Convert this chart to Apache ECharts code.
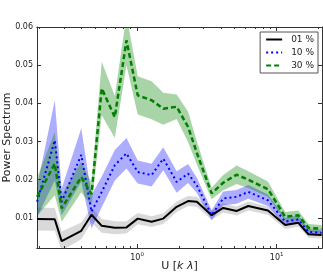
<!DOCTYPE html>
<html><head><meta charset="utf-8">
<script src="https://cdn.jsdelivr.net/npm/echarts@6/dist/echarts.min.js"></script>
<style>html,body{margin:0;padding:0;background:#fff}#c{width:323px;height:276px}</style>
</head><body><div id="c"></div>
<script>
const U = [0.192, 0.257, 0.288, 0.398, 0.471, 0.558, 0.692, 0.839, 1.01, 1.27, 1.54, 1.92, 2.32, 2.68, 3.42, 4.14, 5.16, 6.26, 8.66, 11.5, 14.3, 16.9, 21.0];
const P01 = [0.0097, 0.0096, 0.0039, 0.0066, 0.0108, 0.0079, 0.0074, 0.0075, 0.0098, 0.0090, 0.0098, 0.0129, 0.0144, 0.0142, 0.0107, 0.0126, 0.0118, 0.0131, 0.0119, 0.0081, 0.0087, 0.0057, 0.0055];
const E01 = [0.003, 0.003, 0.0025, 0.0022, 0.002, 0.0018, 0.0017, 0.0016, 0.0015, 0.0014, 0.0014, 0.0014, 0.0013, 0.0013, 0.0012, 0.0012, 0.0012, 0.0012, 0.0011, 0.001, 0.001, 0.0009, 0.0009];
const P10 = [0.0142, 0.0303, 0.0142, 0.0265, 0.0116, 0.0168, 0.0238, 0.0269, 0.0220, 0.0212, 0.0255, 0.0194, 0.0216, 0.0185, 0.0107, 0.0151, 0.0155, 0.0168, 0.0146, 0.0090, 0.0096, 0.0063, 0.0061];
const E10 = [0.004, 0.0105, 0.0035, 0.007, 0.0044, 0.004, 0.004, 0.004, 0.003, 0.003, 0.003, 0.0028, 0.0025, 0.002, 0.0013, 0.0018, 0.0018, 0.0018, 0.0015, 0.001, 0.001, 0.0008, 0.0008];
const P30 = [0.0155, 0.0242, 0.0125, 0.0207, 0.0162, 0.0439, 0.0364, 0.0565, 0.0421, 0.0408, 0.0386, 0.0391, 0.0338, 0.027, 0.0164, 0.0192, 0.0213, 0.0200, 0.0175, 0.0103, 0.0107, 0.0074, 0.0071];
const E30 = [0.005, 0.0083, 0.0035, 0.004, 0.003, 0.007, 0.0055, 0.0065, 0.005, 0.005, 0.0042, 0.0032, 0.004, 0.003, 0.0015, 0.002, 0.0024, 0.0022, 0.002, 0.0012, 0.0012, 0.001, 0.001];
const NAMES = ['01 %', '10 %', '30 %'];
const Y_TICKS = [0.01, 0.02, 0.03, 0.04, 0.05, 0.06];
const X_MAJOR = [1, 10];
const X_MINOR = [0.2, 0.3, 0.4, 0.5, 0.6, 0.7, 0.8, 0.9, 2, 3, 4, 5, 6, 7, 8, 9, 20];
const X_LABELS = {1: '10{sup|0}', 10: '10{sup|1}'};

const FONT = 'DejaVu Sans';
const XMIN = 0.1917, XMAX = 21.13, YMIN = 0.0021, YMAX = 0.06;
const frame = {show: true, lineStyle: {color: '#333', width: 1}};

function xAx(pos, ticks, len, labels) {
  return {
    type: 'log', logBase: 10, min: XMIN, max: XMAX, position: pos,
    axisLine: frame,
    splitLine: {show: false},
    axisTick: {show: true, inside: true, length: len, customValues: ticks, lineStyle: {color: '#333'}},
    axisLabel: labels ? {
      show: true, customValues: X_MAJOR, margin: 4,
      formatter: v => X_LABELS[Math.round(v)] || '',
      color: '#222', fontFamily: FONT, fontSize: 8,
      rich: {sup: {fontSize: 5.5, fontFamily: FONT, color: '#222', padding: [0, 0, 5, 0]}}
    } : {show: false},
    name: labels ? 'U [{it|k λ}]' : '', nameLocation: 'middle', nameGap: 13, nameMoveOverlap: false,
    nameTextStyle: {color: '#222', fontFamily: FONT, fontSize: 11,
      rich: {it: {fontStyle: 'italic', fontFamily: FONT, fontSize: 11, color: '#222'}}}
  };
}

function pts(arr) { return U.map((u, i) => [u, arr[i]]); }

function bandSeries(id, vals, errs, color) {
  return {
    name: id, type: 'custom', silent: true, z: 1,
    data: [[U[0], vals[0]]],
    renderItem: function (params, api) {
      const up = U.map((u, i) => api.coord([u, vals[i] + errs[i]]));
      const lo = U.map((u, i) => api.coord([u, vals[i] - errs[i]])).reverse();
      const cs = params.coordSys;
      return {
        type: 'group',
        clipPath: {type: 'rect', shape: {x: cs.x, y: cs.y, width: cs.width, height: cs.height}},
        children: [{type: 'polygon', shape: {points: up.concat(lo)}, style: {fill: color}}]
      };
    }
  };
}

const series = [
  bandSeries('b01', P01, E01, 'rgba(0,0,0,0.15)'),
  bandSeries('b10', P10, E10, 'rgba(0,0,255,0.32)'),
  bandSeries('b30', P30, E30, 'rgba(0,128,0,0.34)'),
  {name: NAMES[0], type: 'line', data: pts(P01), symbol: 'none', z: 5,
   lineStyle: {color: '#000', width: 2, type: 'solid'}, itemStyle: {color: '#000'}},
  {name: NAMES[1], type: 'line', data: pts(P10), symbol: 'none', z: 5,
   lineStyle: {color: '#0000ff', width: 2, type: [2, 3]}, itemStyle: {color: '#0000ff'}},
  {name: NAMES[2], type: 'line', data: pts(P30), symbol: 'none', z: 5,
   lineStyle: {color: '#007f00', width: 2.5, type: [5, 3]}, itemStyle: {color: '#007f00'}}
];

const chart = echarts.init(document.getElementById('c'), null, {renderer: 'canvas'});
chart.setOption({
  animation: false,
  backgroundColor: '#fff',
  grid: {left: 37, right: 1, top: 27, bottom: 28, containLabel: false, outerBoundsMode: 'none'},
  xAxis: [
    xAx('bottom', X_MAJOR, 4, true),
    xAx('bottom', X_MINOR, 2, false),
    xAx('top', X_MAJOR, 4, false),
    xAx('top', X_MINOR, 2, false)
  ],
  yAxis: [
    {type: 'value', min: YMIN, max: YMAX, position: 'left',
     axisLine: frame, splitLine: {show: false},
     axisTick: {show: true, inside: true, length: 4, customValues: Y_TICKS, lineStyle: {color: '#333'}},
     axisLabel: {customValues: Y_TICKS, formatter: v => v.toFixed(2), color: '#222', fontFamily: FONT, fontSize: 8, margin: 4},
     name: 'Power Spectrum', nameLocation: 'middle', nameGap: 24, nameMoveOverlap: false,
     nameTextStyle: {color: '#222', fontFamily: FONT, fontSize: 11}},
    {type: 'value', min: YMIN, max: YMAX, position: 'right',
     axisLine: frame, splitLine: {show: false},
     axisTick: {show: true, inside: true, length: 4, customValues: Y_TICKS, lineStyle: {color: '#333'}},
     axisLabel: {show: false}}
  ],
  legend: {
    data: NAMES, orient: 'vertical', right: 5, top: 32,
    backgroundColor: '#fff', borderColor: '#555', borderWidth: 1, borderRadius: 0,
    padding: [3, 4, 3, 5], itemGap: 4, itemWidth: 16, itemHeight: 9,
    itemStyle: {opacity: 0},
    textStyle: {fontFamily: FONT, fontSize: 9, color: '#222', padding: [0, 0, 0, 4]}
  },
  series: series
});
</script>
</body></html>
